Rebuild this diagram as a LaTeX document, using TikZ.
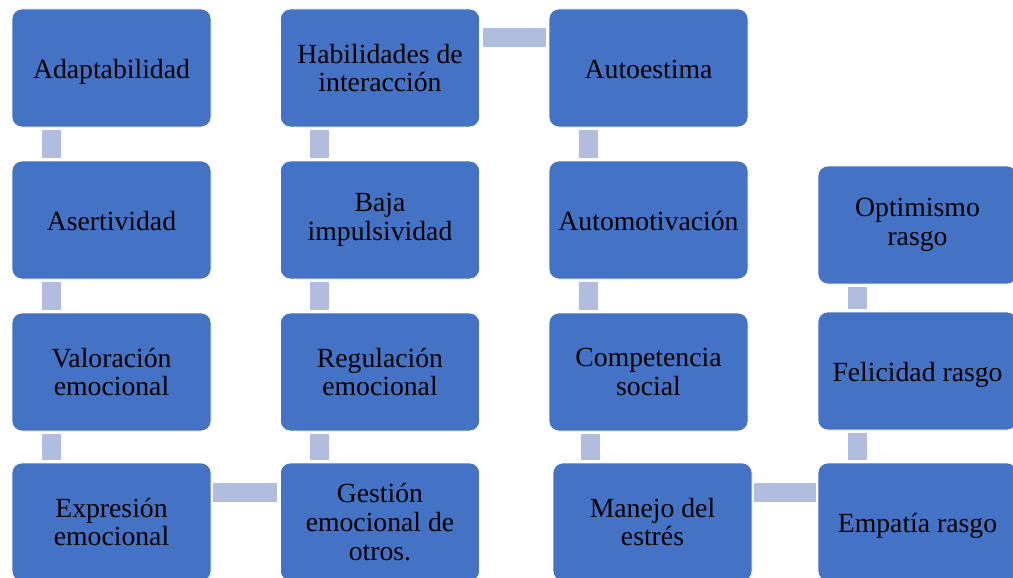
\documentclass[tikz,border=0pt]{standalone}
\usepackage{fontspec}
\setmainfont{Liberation Serif}
\usetikzlibrary{calc}
\definecolor{boxblue}{RGB}{68,114,196}
\definecolor{connblue}{RGB}{176,189,222}
\tikzset{
  box/.style={rectangle, rounded corners=10pt, fill=boxblue, draw=white, line width=0.6pt,
    minimum width=199pt, minimum height=118pt, inner sep=0pt, align=center,
    font=\fontsize{27.7}{28.7}\selectfont, text=black},
  oneline/.style={text height=20pt, text depth=0pt},
  conn/.style={draw=connblue, line width=19pt}
}
\begin{document}
\begin{tikzpicture}[x=1pt,y=1pt]
\clip (0,0) rectangle (1013,-578);
\fill[white] (0,0) rectangle (1013,-578);
% column 1
\node[box,oneline] (adap) at (111.5,-68) {Adaptabilidad};
\node[box,oneline] (aser) at (111.5,-220) {Asertividad};
\node[box] (valo) at (111.5,-372) {Valoración\\emocional};
\node[box] (expr) at (111.5,-522) {Expresión\\emocional};
% column 2
\node[box] (habi) at (380,-68) {Habilidades de\\interacción};
\node[box] (baja) at (380,-220) {Baja\\impulsividad};
\node[box] (regu) at (380,-372) {Regulación\\emocional};
\node[box] (gest) at (380,-522) {Gestión\\emocional de\\otros.};
% column 3
\node[box,oneline] (auto) at (648.5,-68) {Autoestima};
\node[box,oneline] (amot) at (648.5,-220) {Automotivación};
\node[box] (comp) at (648.5,-372) {Competencia\\social};
\node[box] (mane) at (652.5,-522) {Manejo del\\estrés};
% column 4
\node[box] (opti) at (917.5,-225) {Optimismo\\rasgo};
\node[box,oneline] (feli) at (917.5,-371) {Felicidad rasgo};
\node[box,oneline] (empa) at (917.5,-522) {Empatía rasgo};
% vertical connectors
\draw[conn] ($(adap.south west)+(39.5,-3)$) -- ($(aser.north west)+(39.5,3)$);
\draw[conn] ($(aser.south west)+(39.5,-3)$) -- ($(valo.north west)+(39.5,3)$);
\draw[conn] ($(valo.south west)+(39.5,-3)$) -- ($(expr.north west)+(39.5,3)$);
\draw[conn] ($(habi.south west)+(39.5,-3)$) -- ($(baja.north west)+(39.5,3)$);
\draw[conn] ($(baja.south west)+(39.5,-3)$) -- ($(regu.north west)+(39.5,3)$);
\draw[conn] ($(regu.south west)+(39.5,-3)$) -- ($(gest.north west)+(39.5,3)$);
\draw[conn] ($(auto.south west)+(39.5,-3)$) -- ($(amot.north west)+(39.5,3)$);
\draw[conn] ($(amot.south west)+(39.5,-3)$) -- ($(comp.north west)+(39.5,3)$);
\draw[conn] ($(comp.south west)+(42,-3)$) -- ($(mane.north west)+(38,3)$);
\draw[conn] ($(opti.south west)+(39.5,-3)$) -- ($(feli.north west)+(39.5,3)$);
\draw[conn] ($(feli.south west)+(39.5,-3)$) -- ($(empa.north west)+(39.5,3)$);
% horizontal connectors
\draw[conn] ($(habi.north east)+(3,-28.5)$) -- ($(auto.north west)+(-3,-28.5)$);
\draw[conn] ($(expr.north east)+(2,-29.5)$) -- ($(gest.north west)+(-3,-29.5)$);
\draw[conn] ($(mane.north east)+(2,-29.5)$) -- ($(empa.north west)+(-2,-29.5)$);
\end{tikzpicture}
\end{document}
